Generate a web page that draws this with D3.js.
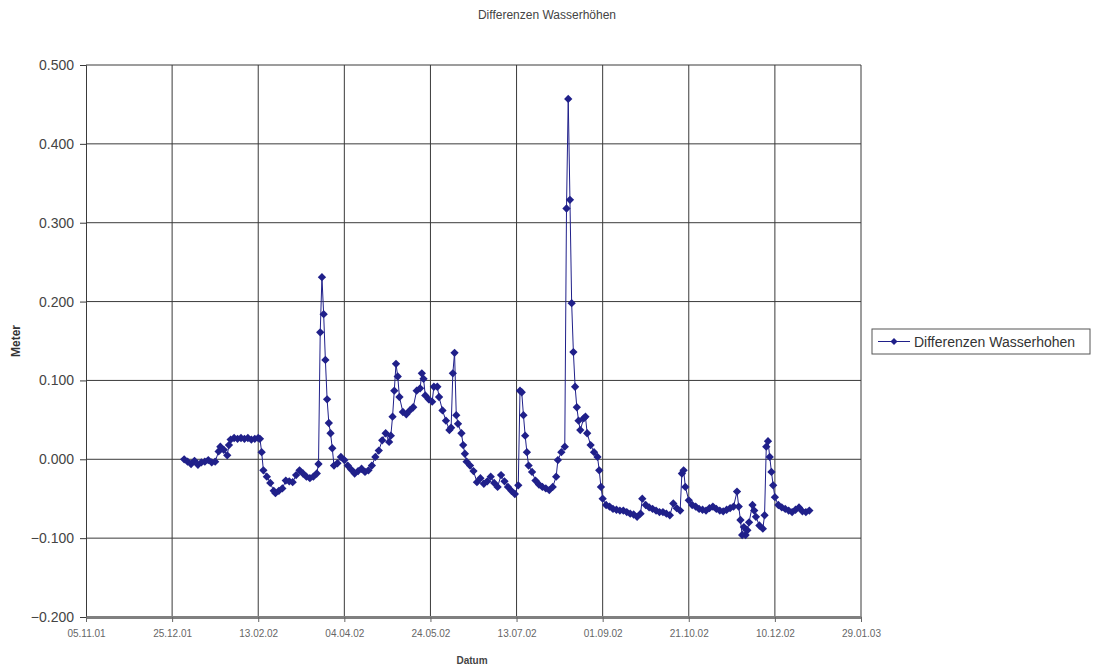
<!DOCTYPE html>
<html>
<head>
<meta charset="utf-8">
<script src="https://cdn.jsdelivr.net/npm/d3@7"></script>
<style>
  body { margin: 0; background: #fff; }
  svg { display: block; font-family: "Liberation Sans", Arial, sans-serif; }
</style>
</head>
<body>
<div class="chart"></div>
<script>
// Data: daily water level differences (Meter)
const dates = [
  "01.01.02","03.01.02","05.01.02","07.01.02","09.01.02","11.01.02","13.01.02","15.01.02","17.01.02","19.01.02",
  "21.01.02","22.01.02","24.01.02","26.01.02","27.01.02","28.01.02","30.01.02","01.02.02","03.02.02","05.02.02",
  "07.02.02","09.02.02","11.02.02","13.02.02","14.02.02","15.02.02","16.02.02","18.02.02","20.02.02","22.02.02",
  "23.02.02","25.02.02","27.02.02","01.03.02","03.03.02","05.03.02","07.03.02","09.03.02","11.03.02","13.03.02",
  "15.03.02","17.03.02","19.03.02","20.03.02","21.03.02","22.03.02","23.03.02","24.03.02","25.03.02","26.03.02",
  "27.03.02","28.03.02","29.03.02","31.03.02","02.04.02","04.04.02","06.04.02","08.04.02","10.04.02","12.04.02",
  "14.04.02","16.04.02","18.04.02","20.04.02","22.04.02","24.04.02","26.04.02","28.04.02","30.04.02","01.05.02",
  "02.05.02","03.05.02","04.05.02","05.05.02","06.05.02","08.05.02","10.05.02","12.05.02","14.05.02","16.05.02",
  "18.05.02","19.05.02","20.05.02","21.05.02","23.05.02","25.05.02","26.05.02","28.05.02","29.05.02","31.05.02",
  "02.06.02","04.06.02","05.06.02","06.06.02","07.06.02","08.06.02","09.06.02","11.06.02","12.06.02","13.06.02",
  "14.06.02","16.06.02","18.06.02","20.06.02","22.06.02","24.06.02","26.06.02","28.06.02","30.06.02","02.07.02",
  "04.07.02","06.07.02","08.07.02","10.07.02","12.07.02","14.07.02","15.07.02","16.07.02","17.07.02","18.07.02",
  "19.07.02","20.07.02","22.07.02","24.07.02","26.07.02","28.07.02","30.07.02","01.08.02","03.08.02","05.08.02",
  "06.08.02","08.08.02","10.08.02","11.08.02","12.08.02","13.08.02","14.08.02","15.08.02","16.08.02","17.08.02",
  "18.08.02","19.08.02","21.08.02","22.08.02","23.08.02","25.08.02","27.08.02","29.08.02","30.08.02","31.08.02",
  "01.09.02","03.09.02","05.09.02","07.09.02","09.09.02","11.09.02","13.09.02","15.09.02","17.09.02","19.09.02",
  "21.09.02","23.09.02","24.09.02","26.09.02","28.09.02","30.09.02","02.10.02","04.10.02","06.10.02","08.10.02",
  "10.10.02","12.10.02","14.10.02","16.10.02","17.10.02","18.10.02","19.10.02","21.10.02","23.10.02","25.10.02",
  "27.10.02","29.10.02","31.10.02","02.11.02","04.11.02","06.11.02","08.11.02","10.11.02","12.11.02","14.11.02",
  "16.11.02","18.11.02","19.11.02","20.11.02","21.11.02","22.11.02","23.11.02","24.11.02","25.11.02","27.11.02",
  "28.11.02","29.11.02","01.12.02","03.12.02","04.12.02","05.12.02","06.12.02","07.12.02","08.12.02","09.12.02",
  "10.12.02","12.12.02","14.12.02","16.12.02","18.12.02","20.12.02","22.12.02","24.12.02","26.12.02","28.12.02",
  "30.12.02"
];
const values = [
  0.000,-0.003,-0.006,-0.002,-0.007,-0.004,-0.003,-0.001,-0.004,-0.003,
  0.010,0.016,0.012,0.005,0.018,0.025,0.027,0.026,0.027,0.026,
  0.027,0.025,0.026,0.027,0.026,0.009,-0.014,-0.022,-0.030,-0.040,
  -0.043,-0.040,-0.037,-0.027,-0.028,-0.029,-0.020,-0.014,-0.018,-0.022,
  -0.024,-0.022,-0.018,-0.006,0.161,0.231,0.184,0.126,0.076,0.046,
  0.033,0.014,-0.008,-0.005,0.003,-0.001,-0.008,-0.013,-0.018,-0.015,
  -0.012,-0.016,-0.014,-0.008,0.003,0.011,0.024,0.033,0.022,0.030,
  0.054,0.087,0.121,0.105,0.079,0.060,0.057,0.062,0.066,0.087,
  0.090,0.109,0.102,0.081,0.076,0.073,0.092,0.092,0.079,0.062,
  0.049,0.037,0.040,0.109,0.135,0.056,0.045,0.033,0.018,0.007,
  -0.003,-0.008,-0.015,-0.029,-0.024,-0.031,-0.028,-0.022,-0.030,-0.035,
  -0.020,-0.028,-0.035,-0.040,-0.044,-0.033,0.087,0.085,0.056,0.030,
  0.009,-0.008,-0.016,-0.027,-0.032,-0.035,-0.037,-0.039,-0.035,-0.022,
  -0.001,0.009,0.016,0.318,0.457,0.329,0.198,0.136,0.092,0.066,
  0.049,0.037,0.052,0.054,0.033,0.018,0.009,0.003,-0.014,-0.035,
  -0.050,-0.058,-0.060,-0.063,-0.064,-0.065,-0.065,-0.067,-0.069,-0.070,
  -0.073,-0.069,-0.050,-0.058,-0.061,-0.063,-0.065,-0.067,-0.067,-0.069,
  -0.071,-0.056,-0.062,-0.065,-0.018,-0.014,-0.035,-0.052,-0.058,-0.060,
  -0.063,-0.064,-0.065,-0.062,-0.060,-0.063,-0.065,-0.066,-0.064,-0.062,
  -0.060,-0.041,-0.060,-0.077,-0.096,-0.086,-0.096,-0.090,-0.080,-0.058,
  -0.065,-0.073,-0.084,-0.088,-0.071,0.016,0.023,0.003,-0.016,-0.033,
  -0.048,-0.058,-0.061,-0.063,-0.065,-0.067,-0.064,-0.061,-0.066,-0.067,
  -0.065
];
const xTickLabels = ["05.11.01","25.12.01","13.02.02","04.04.02","24.05.02","13.07.02","01.09.02","21.10.02","10.12.02","29.01.03"];
const yTicks = [-0.2, -0.1, 0.0, 0.1, 0.2, 0.3, 0.4, 0.5];

const title = "Differenzen Wasserhöhen";
const seriesName = "Differenzen Wasserhohen";

// Layout
const width = 1094, height = 669;
const plotLeft = 86, plotRight = 861, plotTop = 65, plotBottom = 617;
const lineColor = "#20208a";

const parse = d3.timeParse("%d.%m.%y");
const points = dates.map((d, i) => ({ date: parse(d), value: values[i] }));
const tickDates = xTickLabels.map(parse);

const svg = d3.select(".chart")
  .append("svg")
  .attr("width", width)
  .attr("height", height);

const xScale = d3.scaleTime()
  .domain([tickDates[0], tickDates[tickDates.length - 1]])
  .range([plotLeft, plotRight]);
const yScale = d3.scaleLinear()
  .domain([-0.2, 0.5])
  .range([plotBottom, plotTop]);

// vertical gridlines
svg.append("g")
  .selectAll("line")
  .data(tickDates.slice(1))
  .enter().append("line")
  .attr("x1", d => xScale(d)).attr("x2", d => xScale(d))
  .attr("y1", plotTop).attr("y2", plotBottom)
  .attr("stroke", "#3a3a3a").attr("stroke-width", 1);

// horizontal gridlines
svg.append("g")
  .selectAll("line")
  .data(yTicks.slice(1))
  .enter().append("line")
  .attr("x1", plotLeft).attr("x2", plotRight)
  .attr("y1", d => yScale(d)).attr("y2", d => yScale(d))
  .attr("stroke", "#3a3a3a").attr("stroke-width", 1);

// y-axis
const yAxis = d3.axisLeft(yScale)
  .tickValues(yTicks)
  .tickFormat(d3.format(".3f"))
  .tickSize(6)
  .tickPadding(6);
const yG = svg.append("g")
  .attr("transform", `translate(${ plotLeft }, 0)`)
  .call(yAxis);
yG.select(".domain").attr("stroke", "#3a3a3a");
yG.selectAll(".tick line").attr("stroke", "#3a3a3a");
yG.selectAll("text")
  .attr("fill", "#444")
  .style("font-size", "14px")
  .style("font-family", "'Liberation Sans', Arial, sans-serif");

// x-axis
const xAxis = d3.axisBottom(xScale)
  .tickValues(tickDates)
  .tickFormat(d3.timeFormat("%d.%m.%y"))
  .tickSize(5)
  .tickSizeOuter(0)
  .tickPadding(8);
const xG = svg.append("g")
  .attr("transform", `translate(0, ${ plotBottom })`)
  .call(xAxis);
xG.select(".domain").attr("stroke", "#808080").attr("stroke-width", 3);
xG.selectAll(".tick line").attr("stroke", "#666");
xG.selectAll("text")
  .attr("fill", "#666")
  .style("font-size", "10px")
  .style("font-family", "'Liberation Sans Narrow', 'Liberation Sans', Arial, sans-serif");

// series line
const line = d3.line()
  .x(d => xScale(d.date))
  .y(d => yScale(d.value));
svg.append("path")
  .datum(points)
  .attr("fill", "none")
  .attr("stroke", lineColor)
  .attr("stroke-width", 1)
  .attr("d", line);

// diamond markers
const diamond = d3.symbol().type(d3.symbolDiamond2).size(44);
svg.append("g")
  .selectAll("path")
  .data(points)
  .enter().append("path")
  .attr("d", diamond)
  .attr("transform", d => `translate(${ xScale(d.date) }, ${ yScale(d.value) })`)
  .attr("fill", lineColor);

// title and axis titles
svg.append("text")
  .attr("x", 547).attr("y", 19)
  .attr("text-anchor", "middle")
  .attr("fill", "#444")
  .style("font-size", "12px")
  .text(title);

svg.append("text")
  .attr("x", 472).attr("y", 664)
  .attr("text-anchor", "middle")
  .attr("fill", "#444")
  .style("font-size", "10px")
  .style("font-weight", "bold")
  .style("font-family", "'Liberation Sans Narrow', 'Liberation Sans', Arial, sans-serif")
  .text("Datum");

svg.append("text")
  .attr("transform", "translate(20, 341) rotate(-90)")
  .attr("text-anchor", "middle")
  .attr("fill", "#333")
  .style("font-size", "12px")
  .style("font-weight", "bold")
  .text("Meter");

// legend
const legend = svg.append("g").attr("transform", "translate(872, 329)");
legend.append("rect")
  .attr("width", 218).attr("height", 25)
  .attr("fill", "#fff")
  .attr("stroke", "#555");
legend.append("line")
  .attr("x1", 6).attr("x2", 38)
  .attr("y1", 12.5).attr("y2", 12.5)
  .attr("stroke", lineColor);
legend.append("path")
  .attr("d", d3.symbol().type(d3.symbolDiamond2).size(32))
  .attr("transform", "translate(22, 12.5)")
  .attr("fill", lineColor);
legend.append("text")
  .attr("x", 42).attr("y", 17.5)
  .attr("fill", "#333")
  .style("font-size", "14px")
  .text(seriesName);
</script>
</body>
</html>
